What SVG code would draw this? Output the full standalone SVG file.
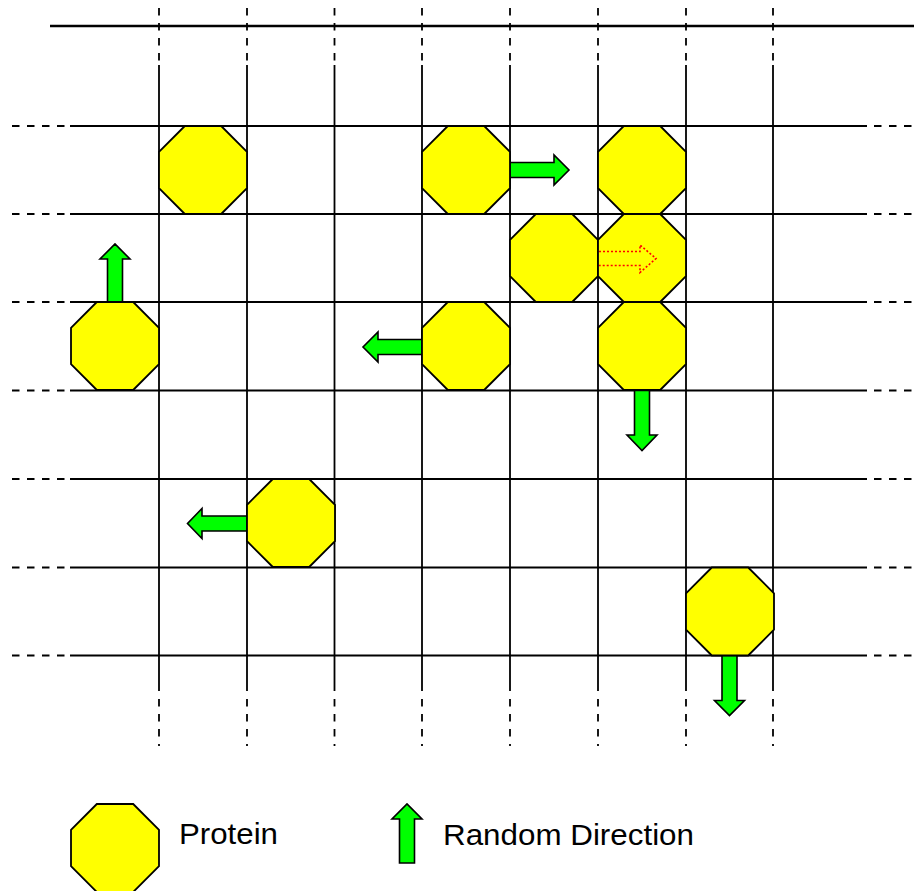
<svg xmlns="http://www.w3.org/2000/svg" xmlns:xlink="http://www.w3.org/1999/xlink" width="914" height="891" viewBox="0 0 914 891">
<style>
.grid{stroke:#000;stroke-width:1.8;fill:none}
.dash{stroke:#000;stroke-width:1.8;fill:none;stroke-dasharray:7.5 7.5}
.prot{fill:#FFFF00;stroke:#000;stroke-width:1.8;stroke-linejoin:miter}
.dir{fill:#00FF00;stroke:#000;stroke-width:1.6;stroke-linejoin:miter}
.ghost{fill:none;stroke:#FF0000;stroke-width:1.6;stroke-dasharray:2 2}
.lbl{font-family:"Liberation Sans",Arial,sans-serif;font-size:30px;fill:#000}
</style>
<defs>
<polygon id="oct" points="25.8,0 62.2,0 88,25.8 88,62.2 62.2,88 25.8,88 0,62.2 0,25.8"/>
</defs>
<rect width="914" height="891" fill="#fff"/>
<g id="connectors">
<line class="grid" x1="50" y1="26" x2="914" y2="26" style="stroke-width:2.6"/>
<g id="vlines">
<path class="grid" d="M159,65V691 M247,65V691 M334.5,65V691 M422,65V691 M510,65V691 M598,65V691 M686,65V691 M773,65V691"/>
<path class="dash" d="M159,8V62 M247,8V62 M334.5,8V62 M422,8V62 M510,8V62 M598,8V62 M686,8V62 M773,8V62"/>
<path class="dash" d="M159,699V746 M247,699V746 M334.5,699V746 M422,699V746 M510,699V746 M598,699V746 M686,699V746 M773,699V746"/>
</g>
<g id="hlines">
<path class="grid" d="M70,126H867 M70,214H867 M70,302H867 M70,390.5H867 M70,479H867 M70,567.5H867 M70,655.5H867"/>
<path class="dash" d="M12,126H68 M12,214H68 M12,302H68 M12,390.5H68 M12,479H68 M12,567.5H68 M12,655.5H68"/>
<path class="dash" d="M874,126H912 M874,214H912 M874,302H912 M874,390.5H912 M874,479H912 M874,567.5H912 M874,655.5H912"/>
</g>
<g id="arrows">
<polygon class="dir" points="510,162.5 554,162.5 554,155 569,170 554,185 554,177.5 510,177.5"/>
<polygon class="dir" points="107.5,302 107.5,259 100,259 115,244 130,259 122.5,259 122.5,302"/>
<polygon class="dir" points="422,339.5 378,339.5 378,332 363,347 378,362 378,354.5 422,354.5"/>
<polygon class="dir" points="634.5,390.5 634.5,435 627,435 642,450.5 657,435 649.5,435 649.5,390.5"/>
<polygon class="dir" points="247,516 202,516 202,508.5 187.5,523.5 202,538.5 202,531 247,531"/>
<polygon class="dir" points="722,655.5 722,700.5 714.5,700.5 729.5,715.5 744.5,700.5 737,700.5 737,655.5"/>
</g>
</g>
<g id="p1"><use xlink:href="#oct" class="prot" transform="translate(159,126)"/></g>
<g id="p2"><use xlink:href="#oct" class="prot" transform="translate(422,126)"/></g>
<g id="p3"><use xlink:href="#oct" class="prot" transform="translate(598,126)"/></g>
<g id="p4"><use xlink:href="#oct" class="prot" transform="translate(510,214)"/></g>
<g id="p5"><use xlink:href="#oct" class="prot" transform="translate(598,214)"/></g>
<g id="p6"><use xlink:href="#oct" class="prot" transform="translate(71,302)"/></g>
<g id="p7"><use xlink:href="#oct" class="prot" transform="translate(422,302)"/></g>
<g id="p8"><use xlink:href="#oct" class="prot" transform="translate(598,302)"/></g>
<g id="p9"><use xlink:href="#oct" class="prot" transform="translate(247,479)"/></g>
<g id="p10"><use xlink:href="#oct" class="prot" transform="translate(686,567.5)"/></g>
<g id="ghost-arrow"><polyline class="ghost" points="599,251.5 640,251.5 640,245 656,258.5 640,272.5 640,265.5 599,265.5"/></g>
<g id="legend-protein">
<use xlink:href="#oct" class="prot" transform="translate(71,804)"/>
<text class="lbl" x="179" y="844" textLength="99" lengthAdjust="spacingAndGlyphs">Protein</text>
</g>
<g id="legend-direction">
<polygon class="dir" points="399.5,863 399.5,819 392,819 407,804 422,819 414.5,819 414.5,863"/>
<text class="lbl" x="443" y="845" textLength="251" lengthAdjust="spacingAndGlyphs">Random Direction</text>
</g>
</svg>
